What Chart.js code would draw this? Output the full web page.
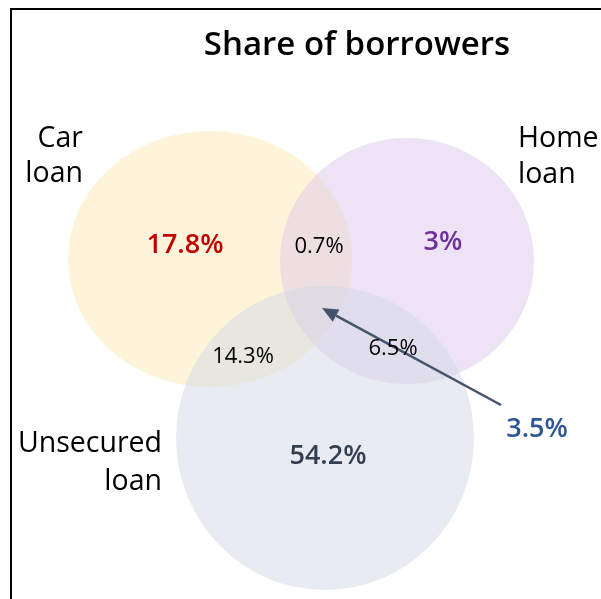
<!DOCTYPE html>
<html>
<head>
<meta charset="utf-8">
<script src="https://cdn.jsdelivr.net/npm/chart.js@4/dist/chart.umd.min.js"></script>
<style>
  html, body { margin: 0; padding: 0; background: #fff; }
  #wrap { position: relative; width: 601px; height: 599px; }
</style>
</head>
<body>
<div id="wrap"><canvas id="c" width="601" height="599"></canvas></div>
<script>
// ---- Data ----
const setNames   = ['Car loan', 'Home loan', 'Unsecured loan'];
const setCenterX = [210, 407, 325];
const setCenterY = [259, 261, 438];
const setRadiusX = [142, 127, 149];
const setRadiusY = [128, 123, 152];
const setColors  = ['rgba(251,233,181,0.5)', 'rgba(221,199,233,0.5)', 'rgba(209,215,227,0.5)'];

const regionLabels = ['17.8%', '3%', '54.2%', '0.7%', '14.3%', '6.5%', '3.5%'];
const regionValues = [17.8, 3, 54.2, 0.7, 14.3, 6.5, 3.5];
const regionX      = [185, 443, 328, 319, 243, 393, 537];
const regionBase   = [253, 250, 464, 253, 363, 355, 437];

const setLabelLines = [['Car', 'loan'], ['Home', 'loan'], ['Unsecured', 'loan']];
const setLabelX     = [83, 518, 162];
const setLabelBase  = [[147, 182], [147, 183], [452, 490]];
const setLabelAlign = ['right', 'left', 'right'];

const titleText = 'Share of borrowers';
const arrowFrom = [501, 405];
const arrowTo   = [322, 308];

// ---- Plugins ----
const FONT = '"Open Sans", "Noto Sans", sans-serif';

const framePlugin = {
  id: 'frame',
  beforeDraw(chart) {
    const ctx = chart.ctx;
    ctx.save();
    ctx.fillStyle = '#fff';
    ctx.fillRect(0, 0, chart.width, chart.height);
    ctx.strokeStyle = '#000';
    ctx.lineWidth = 2;
    ctx.beginPath();
    ctx.moveTo(11, 600);
    ctx.lineTo(11, 9);
    ctx.lineTo(602, 9);
    ctx.stroke();
    ctx.restore();
  }
};

const ellipsePlugin = {
  id: 'vennEllipses',
  beforeDatasetsDraw(chart) {
    const ctx = chart.ctx;
    const xs = chart.scales.x, ys = chart.scales.y;
    ctx.save();
    chart.data.datasets.forEach((ds) => {
      const p = ds.data[0];
      const cx = xs.getPixelForValue(p.x);
      const cy = ys.getPixelForValue(p.y);
      const rx = Math.abs(xs.getPixelForValue(p.x + p.rx) - cx);
      const ry = Math.abs(ys.getPixelForValue(p.y + p.ry) - cy);
      ctx.beginPath();
      ctx.ellipse(cx, cy, rx, ry, 0, 0, Math.PI * 2);
      ctx.fillStyle = ds.fillColor;
      ctx.fill();
    });
    ctx.restore();
  }
};

const labelPlugin = {
  id: 'vennLabels',
  afterDatasetsDraw(chart) {
    const ctx = chart.ctx;
    const xs = chart.scales.x, ys = chart.scales.y;
    ctx.save();
    ctx.textBaseline = 'alphabetic';
    // title
    ctx.fillStyle = '#000';
    ctx.font = '600 33px ' + FONT;
    ctx.textAlign = 'center';
    ctx.fillText(titleText, xs.getPixelForValue(357), ys.getPixelForValue(55));

    // set labels
    ctx.font = '28.5px ' + FONT;
    setLabelLines.forEach((lines, i) => {
      ctx.textAlign = setLabelAlign[i];
      lines.forEach((t, j) => {
        ctx.fillText(t, xs.getPixelForValue(setLabelX[i]), ys.getPixelForValue(setLabelBase[i][j]));
      });
    });

    // arrow
    const x1 = xs.getPixelForValue(arrowFrom[0]), y1 = ys.getPixelForValue(arrowFrom[1]);
    const x2 = xs.getPixelForValue(arrowTo[0]), y2 = ys.getPixelForValue(arrowTo[1]);
    const ang = Math.atan2(y2 - y1, x2 - x1);
    const hl = 16, hw = 7;
    const bx = x2 - hl * Math.cos(ang), by = y2 - hl * Math.sin(ang);
    ctx.strokeStyle = '#44546A';
    ctx.fillStyle = '#44546A';
    ctx.lineWidth = 2.5;
    ctx.beginPath();
    ctx.moveTo(x1, y1);
    ctx.lineTo(bx, by);
    ctx.stroke();
    ctx.beginPath();
    ctx.moveTo(x2, y2);
    ctx.lineTo(bx + hw * Math.sin(ang), by - hw * Math.cos(ang));
    ctx.lineTo(bx - hw * Math.sin(ang), by + hw * Math.cos(ang));
    ctx.closePath();
    ctx.fill();

    // region values
    const styles = [
      { c: '#C00000', f: '600 27px ' },
      { c: '#7030A0', f: '600 27px ' },
      { c: '#333F50', f: '600 27px ' },
      { c: '#000000', f: '22px ' },
      { c: '#000000', f: '22px ' },
      { c: '#000000', f: '22px ' },
      { c: '#2F5597', f: '600 27px ' }
    ];
    ctx.textAlign = 'center';
    regionLabels.forEach((t, i) => {
      ctx.fillStyle = styles[i].c;
      ctx.font = styles[i].f + FONT;
      ctx.fillText(t, xs.getPixelForValue(regionX[i]), ys.getPixelForValue(regionBase[i]));
    });
    ctx.restore();
  }
};

new Chart(document.getElementById('c'), {
  type: 'bubble',
  data: {
    datasets: setNames.map((n, i) => ({
      label: n,
      data: [{ x: setCenterX[i], y: setCenterY[i], r: 0, rx: setRadiusX[i], ry: setRadiusY[i] }],
      fillColor: setColors[i],
      backgroundColor: 'rgba(0,0,0,0)',
      borderWidth: 0,
      pointRadius: 0
    }))
  },
  options: {
    responsive: false,
    animation: false,
    layout: { padding: 0 },
    plugins: { legend: { display: false }, tooltip: { enabled: false }, title: { display: false } },
    scales: {
      x: { type: 'linear', min: 0, max: 601, display: false },
      y: { type: 'linear', min: 0, max: 599, reverse: true, display: false }
    }
  },
  plugins: [framePlugin, ellipsePlugin, labelPlugin]
});
</script>
</body>
</html>
